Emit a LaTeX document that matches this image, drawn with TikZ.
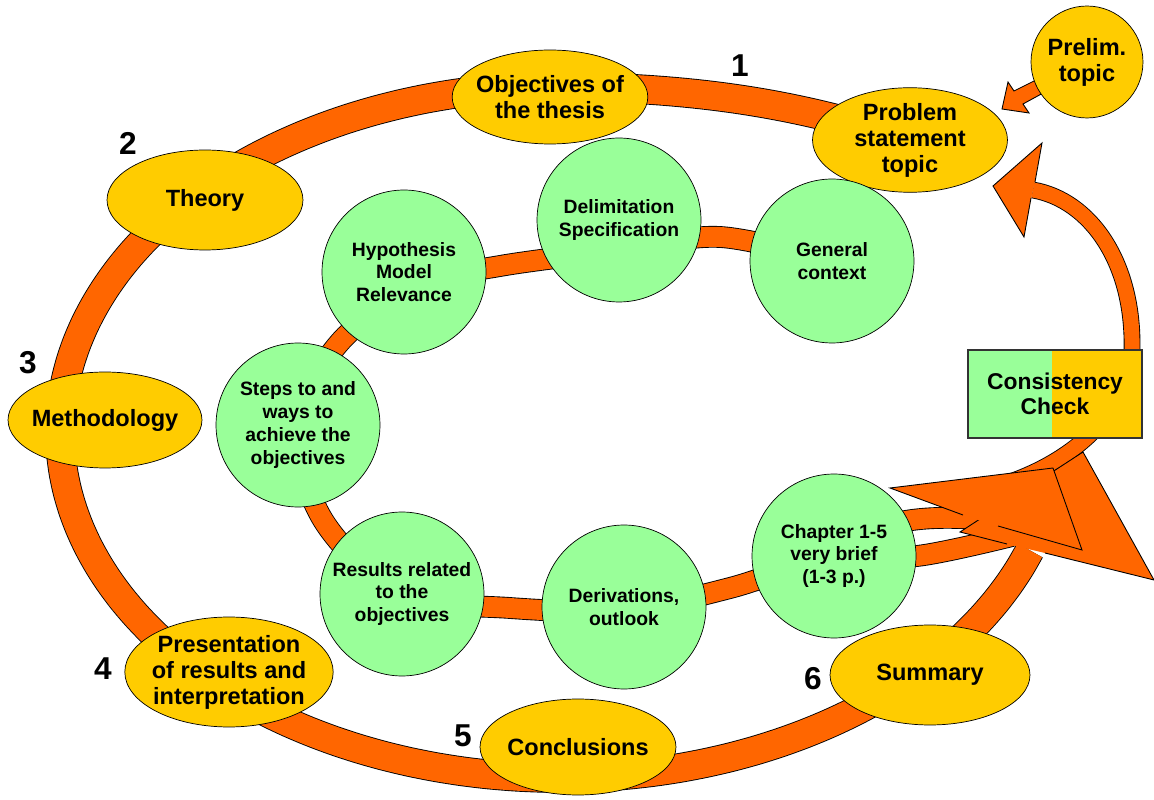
\documentclass[tikz,border=0pt]{standalone}
\usepackage{fontspec}
\setmainfont{Liberation Sans}
\usetikzlibrary{shapes.geometric,backgrounds}

\definecolor{flame}{HTML}{FF6600}
\definecolor{gold}{HTML}{FFCC00}
\definecolor{mint}{HTML}{99FF99}

\tikzset{
  oval/.style={ellipse, draw, fill=gold, inner sep=0pt, align=center,
    font=\bfseries\fontsize{13.4}{14.8}\selectfont},
  bubble/.style={circle, draw, fill=mint, minimum size=3.28cm, inner sep=0pt,
    align=center, font=\bfseries\fontsize{11}{13}\selectfont},
  band/.style={draw=black, line width=0.5pt, double=flame, double distance=#1},
  head/.style={fill=flame},
  rim/.style={draw=black, line width=0.5pt},
  num/.style={font=\bfseries\fontsize{18}{18}\selectfont},
}

\begin{document}
\begin{tikzpicture}[x=0.02cm, y=-0.02cm]
    \useasboundingbox (0,0) rectangle (1154,800);

    % outer ring
    \node[oval, minimum width=3.9cm, minimum height=2cm] (prob) at (910,140) {Problem\\statement\\topic};
    \node[oval, minimum width=3.9cm, minimum height=1.88cm, inner xsep=-2.7pt] (obj) at (550,97) {Objectives of\\the thesis};
    \node[oval, minimum width=3.92cm, minimum height=2cm] (theory) at (205,200) {Theory};
    \node[oval, minimum width=3.88cm, minimum height=1.92cm, inner xsep=-3pt] (method) at (105,420) {Methodology};
    \node[oval, minimum width=4.12cm, minimum height=2.2cm, inner xsep=-2pt] (pres) at (229,672) {Presentation\\of results and\\interpretation};
    \node[oval, minimum width=3.92cm, minimum height=1.92cm, inner xsep=-1pt] (concl) at (578,747) {Conclusions};
    \node[oval, minimum width=4cm, minimum height=2cm] (summ) at (930,675) {Summary};
    \node[oval, circle, minimum size=2.24cm] (prelim) at (1087,62) {Prelim.\\topic};

    % inner ring
    \node[bubble] (gen) at (832,261) {General\\context};
    \node[bubble] (delim) at (619,220) {Delimitation\\Specification};
    \node[bubble] (hyp) at (404,272) {Hypothesis\\Model\\Relevance};
    \node[bubble] (steps) at (298,425) {Steps to and\\ways to\\achieve the\\objectives};
    \node[bubble] (res) at (402,594) {Results related\\to the\\objectives};
    \node[bubble] (deriv) at (624,607) {Derivations,\\outlook};
    \node[bubble] (chap) at (834,556) {Chapter 1-5\\very brief\\(1-3 p.)};

    \node[draw=black!80, line width=0.8pt, fill=gold, minimum width=3.48cm, minimum height=1.76cm,
      align=center, font=\bfseries\fontsize{13}{14.5}\selectfont,
      path picture={\fill[mint] (path picture bounding box.south west) rectangle ([xshift=-0.06cm]path picture bounding box.north);}]
      (check) at (1055,394) {Consistency\\Check};

    \node[num] (n1) at (740,66) {1};
    \node[num] (n2) at (128,143) {2};
    \node[num] (n3) at (28,363) {3};
    \node[num] (n4) at (103,669) {4};
    \node[num] (n5) at (463,736) {5};
    \node[num] (n6) at (813,679) {6};

    \begin{scope}[on background layer]
      % inner band
      \draw[band=0.4cm] plot[smooth, tension=0.55] coordinates {(gen.center) (720,237) (619,250) (500,266) (420,285)
        (340,342) (steps.center) (323,520) (res.center) (510,608) (624,610) (730,588) (chap.center) (917,556) (1012,536)};
      \draw[band=0.4cm] (chap.center) .. controls (870,520) and (920,515) .. (978,519);

      % consistency check loop
      \draw[band=0.3cm] (990,488) .. controls (1060,470) and (1128,420) .. (1132,350)
        .. controls (1134,262) and (1090,200) .. (1033,190);
      \fill[head] (1035,181) -- (1042,143) -- (993,186) -- (1024,237) -- (1031,199) -- cycle;
      \draw[rim] (1035,182) -- (1042,143) -- (993,186) -- (1024,237) -- (1031,198);

      % outer band
      \draw[band=0.56cm] (prob.center) .. controls (800,105) and (700,86) .. (534,86.5)
        -- plot[domain=93:340, samples=80, smooth] ({560+500*cos(\x)}, {432-346*sin(\x)});
      \fill[head] (1007,544) -- (960,532) -- (1083,452) -- (1154,580) -- (1045,553) -- cycle;
      \draw[rim] (1007,544) -- (960,532) -- (1083,452) -- (1154,580) -- (1045,553);

      % arrow tip of the inner band
      \fill[head] (963,515) -- (890,488) -- (1053,468) -- (1082,550) -- (998,526) -- cycle;
      \draw[rim] (963,515) -- (890,488) -- (1053,468) -- (1082,550) -- (998,526);

      % preliminary topic
      \filldraw[head, rim] (1048,74) -- (1014,91) -- (1008,82) -- (1002,109) -- (1029,113) -- (1023,104) -- (1056,86) -- cycle;
    \end{scope}

\end{tikzpicture}
\end{document}
